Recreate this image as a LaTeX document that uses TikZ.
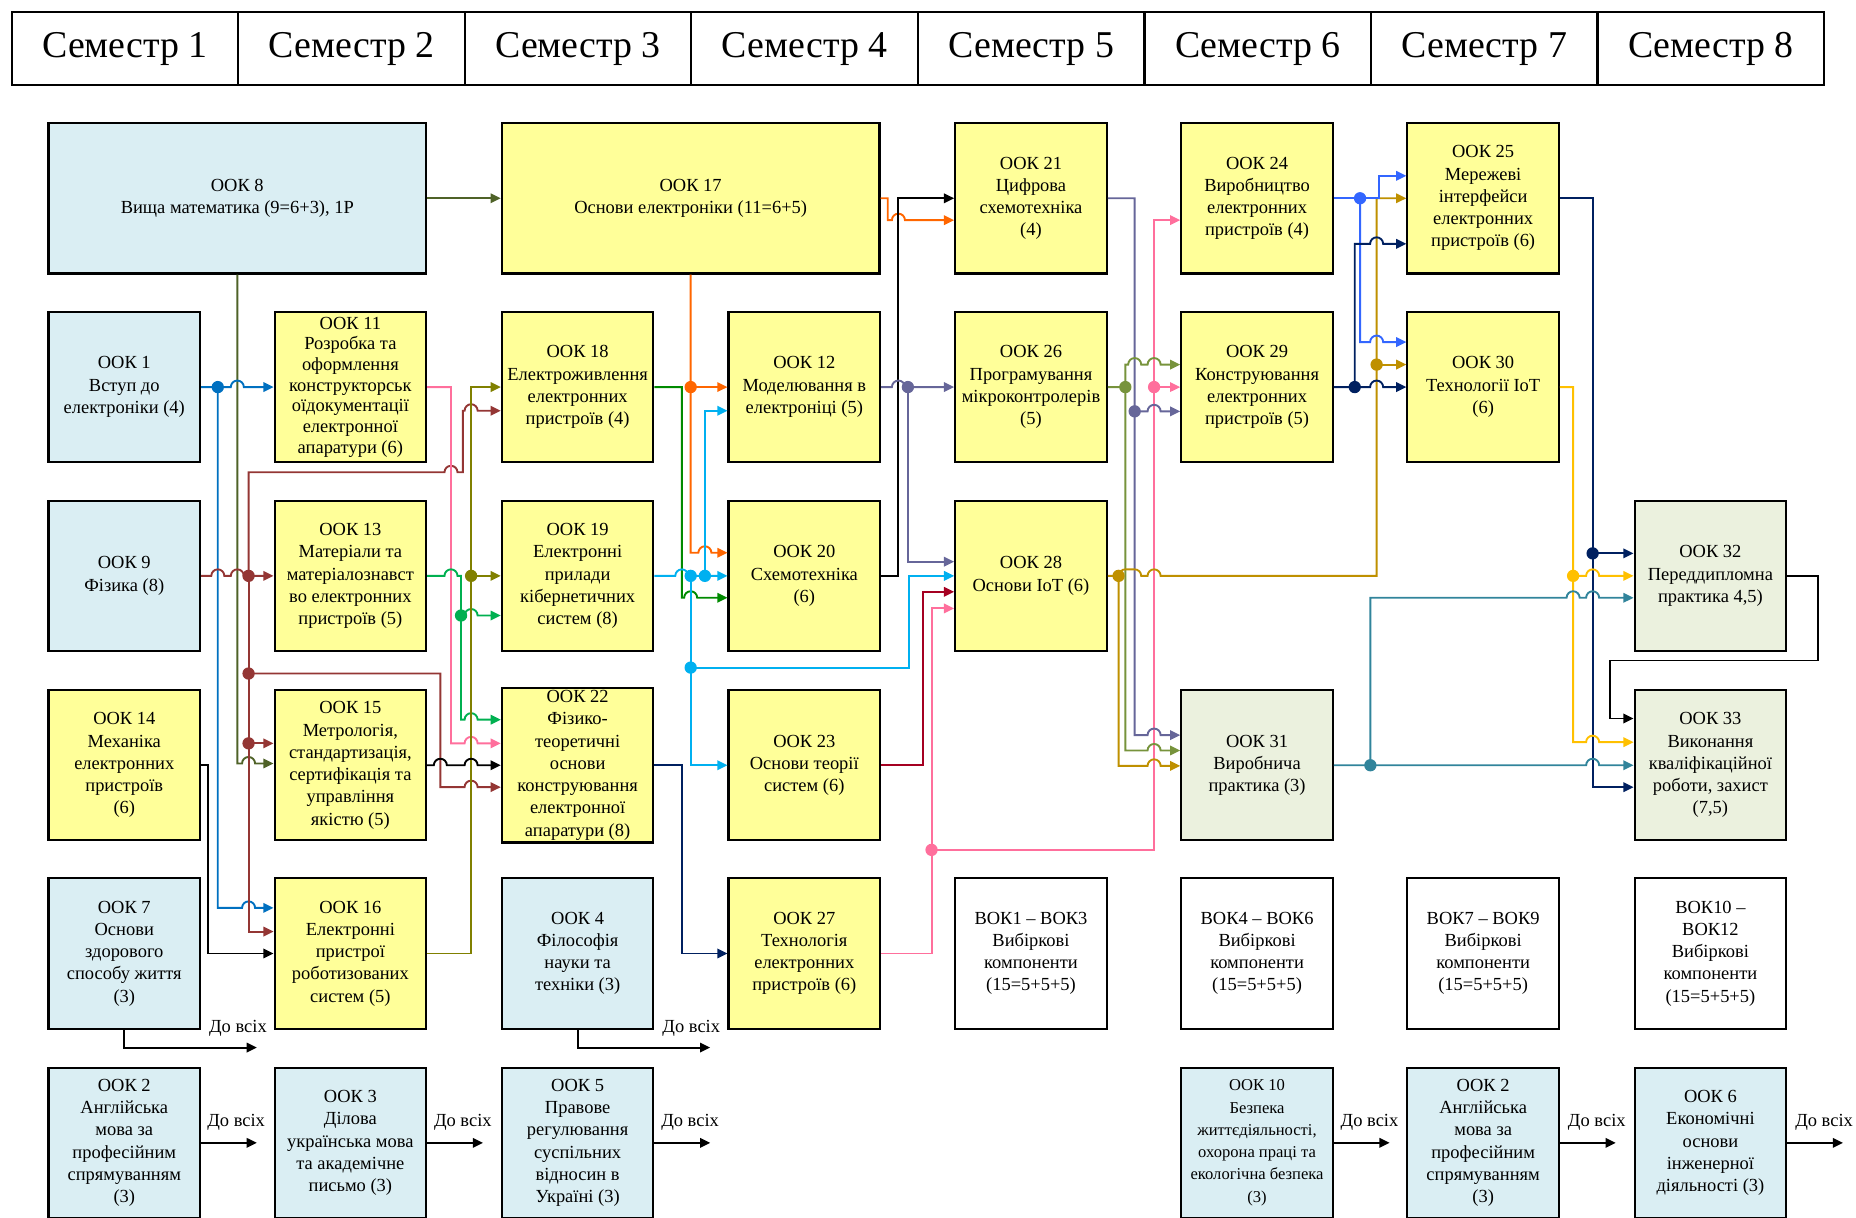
\documentclass[tikz,border=0pt]{standalone}
\usepackage{fontspec}
\setmainfont{Liberation Serif}
\usetikzlibrary{arrows.meta}
\definecolor{fblue}{HTML}{DAEEF3}
\definecolor{fyel}{HTML}{FFFF99}
\definecolor{fgrn}{HTML}{EBF1DE}
\definecolor{cOD}{HTML}{4F6228}
\definecolor{cBlue}{HTML}{0070C0}
\definecolor{cBrown}{HTML}{943634}
\definecolor{cPink}{HTML}{FF6F9C}
\definecolor{cGreen}{HTML}{00B050}
\definecolor{cOlive}{HTML}{808000}
\definecolor{cDGreen}{HTML}{008A00}
\definecolor{cOrange}{HTML}{FF6600}
\definecolor{cCyan}{HTML}{00B0F0}
\definecolor{cNavy}{HTML}{002060}
\definecolor{cPurple}{HTML}{666699}
\definecolor{cCrimson}{HTML}{A50021}
\definecolor{cOG}{HTML}{77933C}
\definecolor{cGold}{HTML}{BF9000}
\definecolor{cBlueB}{HTML}{3366FF}
\definecolor{cYellow}{HTML}{FFC000}
\definecolor{cTeal}{HTML}{31849B}
\newcommand\hopx[2]{-- ({#1-5.5},#2) arc[start angle=180,end angle=0,radius=2.75pt]}
\newcommand\hopw[3]{-- ({#1-5.5},#3) arc[start angle=180,end angle=90,radius=2.75pt] -- ({#2},{#3-5.5}) arc[start angle=90,end angle=0,radius=2.75pt]}
\begin{document}
\begin{tikzpicture}[x=0.5pt,y=-0.5pt,
  hdr/.style={draw,line width=0.9pt,minimum width=95.69pt,minimum height=31pt,inner sep=0pt,font=\fontsize{16}{18}\selectfont},
  box/.style={draw,line width=0.9pt,minimum width=64pt,minimum height=63.5pt,inner sep=1pt,align=center,font=\fontsize{7.8}{9.4}\selectfont},
  wide/.style={minimum width=159.5pt},
  bb/.style={box,fill=fblue},
  yb/.style={box,fill=fyel},
  gb/.style={box,fill=fgrn},
  wb/.style={box,fill=white},
  con/.style={line width=0.8pt,-{Triangle[length=4.3pt,width=4pt]}},
  lbl/.style={inner sep=0pt,font=\fontsize{7.8}{9.4}\selectfont}]
\useasboundingbox (0,0) rectangle (1568,1028.2);
% header
\foreach \i in {1,...,8}
  \node[hdr] (s\i) at ({10+191.375*(\i-0.5)},41) {Семестр \i};
% row 1
\node[bb,wide] (n8) at (200.5,167.5) {ООК 8\\Вища математика (9=6+3), 1Р};
\node[yb,wide] (n17) at (583.5,167.5) {ООК 17\\Основи електроніки (11=6+5)};
\node[yb] (n21) at (871,167.5) {ООК 21\\Цифрова\\схемотехніка\\(4)};
\node[yb] (n24) at (1062,167.5) {ООК 24\\Виробництво\\електронних\\пристроїв (4)};
\node[yb] (n25) at (1253,167.5) {ООК 25\\Мережеві\\інтерфейси\\електронних\\пристроїв (6)};
% row 2
\node[bb] (n1) at (105,327) {ООК 1\\Вступ до\\електроніки (4)};
\node[yb,font=\fontsize{7.8}{8.75}\selectfont] (n11) at (296,327) {ООК 11\\Розробка та\\оформлення\\конструкторськ\\оїдокументації\\електронної\\апаратури (6)};
\node[yb] (n18) at (488,327) {ООК 18\\Електроживлення\\електронних\\пристроїв (4)};
\node[yb] (n12) at (679.5,327) {ООК 12\\Моделювання в\\електроніці (5)};
\node[yb] (n26) at (871,327) {ООК 26\\Програмування\\мікроконтролерів\\(5)};
\node[yb] (n29) at (1062,327) {ООК 29\\Конструювання\\електронних\\пристроїв (5)};
\node[yb] (n30) at (1253,327) {ООК 30\\Технології IoT\\(6)};
% row 3
\node[bb] (n9) at (105,486.5) {ООК 9\\Фізика (8)};
\node[yb] (n13) at (296,486.5) {ООК 13\\Матеріали та\\матеріалознавст\\во електронних\\пристроїв (5)};
\node[yb] (n19) at (488,486.5) {ООК 19\\Електронні\\прилади\\кібернетичних\\систем (8)};
\node[yb] (n20) at (679.5,486.5) {ООК 20\\Схемотехніка\\(6)};
\node[yb] (n28) at (871,486.5) {ООК 28\\Основи IoT (6)};
\node[gb] (n32) at (1445,486.5) {ООК 32\\Переддипломна\\практика 4,5)};
% row 4
\node[yb] (n14) at (105,646.5) {ООК 14\\Механіка\\електронних\\пристроїв\\(6)};
\node[yb] (n15) at (296,646.5) {ООК 15\\Метрологія,\\стандартизація,\\сертифікація та\\управління\\якістю (5)};
\node[yb] (n22) at (488,646.5) {ООК 22\\Фізико-\\теоретичні\\основи\\конструювання\\електронної\\апаратури (8)};
\node[yb] (n23) at (679.5,646.5) {ООК 23\\Основи теорії\\систем (6)};
\node[gb] (n31) at (1062,646.5) {ООК 31\\Виробнича\\практика (3)};
\node[gb] (n33) at (1445,646.5) {ООК 33\\Виконання\\кваліфікаційної\\роботи, захист\\(7,5)};
% row 5
\node[bb] (n7) at (105,805.5) {ООК 7\\Основи\\здорового\\способу життя\\(3)};
\node[yb] (n16) at (296,805.5) {ООК 16\\Електронні\\пристрої\\роботизованих\\систем (5)};
\node[bb] (n4) at (488,805.5) {ООК 4\\Філософія\\науки та\\техніки (3)};
\node[yb] (n27) at (679.5,805.5) {ООК 27\\Технологія\\електронних\\пристроїв (6)};
\node[wb] (v1) at (871,805.5) {ВОК1 – ВОК3\\Вибіркові\\компоненти\\(15=5+5+5)};
\node[wb] (v2) at (1062,805.5) {ВОК4 – ВОК6\\Вибіркові\\компоненти\\(15=5+5+5)};
\node[wb] (v3) at (1253,805.5) {ВОК7 – ВОК9\\Вибіркові\\компоненти\\(15=5+5+5)};
\node[wb] (v4) at (1445,805.5) {ВОК10 –\\ВОК12\\Вибіркові\\компоненти\\(15=5+5+5)};
% row 6
\node[bb] (n2) at (105,965.5) {ООК 2\\Англійська\\мова за\\професійним\\спрямуванням\\(3)};
\node[bb] (n3) at (296,965.5) {ООК 3\\Ділова\\українська мова\\та академічне\\письмо (3)};
\node[bb] (n5) at (488,965.5) {ООК 5\\Правове\\регулювання\\суспільних\\відносин в\\Україні (3)};
\node[bb,font=\fontsize{7}{9.4}\selectfont] (n10) at (1062,965.5) {ООК 10\\Безпека\\життєдіяльності,\\охорона праці та\\екологічна безпека\\(3)};
\node[bb] (n2b) at (1253,965.5) {ООК 2\\Англійська\\мова за\\професійним\\спрямуванням\\(3)};
\node[bb] (n6) at (1445,965.5) {ООК 6\\Економічні\\основи\\інженерної\\діяльності (3)};
% "До всіх"
\coordinate (e7) at (217,885);
\coordinate (e4) at (600,885);
\coordinate (e2) at (217,965.5);
\coordinate (e3) at (408,965.5);
\coordinate (e5) at (600,965.5);
\coordinate (e10) at (1174,965.5);
\coordinate (e2b) at (1365,965.5);
\coordinate (e6) at (1557,965.5);
\draw[con] (n7.south) -- (105,885) -- (e7);
\draw[con] (n4.south) -- (488,885) -- (e4);
\draw[con] (n2.east) -- (e2);
\draw[con] (n3.east) -- (e3);
\draw[con] (n5.east) -- (e5);
\draw[con] (n10.east) -- (e10);
\draw[con] (n2b.east) -- (e2b);
\draw[con] (n6.east) -- (e6);
\node[lbl] (l7) at (201,869) {До всіх};
\node[lbl] (l4) at (584,869) {До всіх};
\node[lbl] (l2) at (199.5,948) {До всіх};
\node[lbl] (l3) at (391,948) {До всіх};
\node[lbl] (l5) at (583,948) {До всіх};
\node[lbl] (l10) at (1157,948) {До всіх};
\node[lbl] (l2b) at (1349,948) {До всіх};
\node[lbl] (l6) at (1541,948) {До всіх};
% ---- connectors ----
% OOK 8
\draw[con,cOD] (n8.east) -- (n17.west);
\draw[con,cOD] (n8.south) -- (200.5,645) \hopx{210}{645} -- (n15.west |- 0,645);
% OOK 1
\draw[con,cBlue] (n1.east) -- (184,327) \hopx{200.5}{327} -- (n11.west);
\draw[con,cBlue] (184,327) -- (184,767) \hopx{210}{767} -- (n16.west |- 0,767);
\fill[cBlue] (184,327) circle[radius=2.6pt];
% OOK 9
\draw[con,cBrown] (n9.east) \hopx{184}{486.5} \hopx{200.5}{486.5} -- (n13.west);
\draw[con,cBrown] (210,486.5) -- (210,399) \hopx{381}{399} -- (391,399) -- (391,347) \hopx{398}{347} -- (n18.west |- 0,347);
\draw[con,cBrown] (210,486.5) -- (210,787) -- (n16.west |- 0,787);
\draw[con,cBrown] (210,569) -- (372,569) -- (372,665) \hopx{398}{665} -- (n22.west |- 0,665);
\draw[con,cBrown] (210,628) -- (n15.west |- 0,628);
\fill[cBrown] (210,486.5) circle[radius=2.6pt] (210,569) circle[radius=2.6pt] (210,628) circle[radius=2.6pt];
% OOK 14
\draw[con] (n14.east) -- (176,646.5) -- (176,805.5) -- (n16.west);
% OOK 11
\draw[con,cPink] (n11.east) -- (381,327) -- (381,628) \hopx{398}{628} -- (n22.west |- 0,628);
% OOK 13
\draw[con,cGreen] (n13.east) \hopx{381}{486.5} -- (389.5,486.5) -- (389.5,608) \hopx{398}{608} -- (n22.west |- 0,608);
\draw[con,cGreen] (389.5,520) \hopx{398}{520} -- (n19.west |- 0,520);
\fill[cGreen] (389.5,520) circle[radius=2.6pt];
% OOK 16
\draw[con,cOlive] (n16.east) -- (398,805.5) -- (398,327) -- (n18.west);
\draw[con,cOlive] (398,486.5) -- (n19.west);
\fill[cOlive] (398,486.5) circle[radius=2.6pt];
% OOK 15
\draw[con] (n15.east) \hopx{372}{646.5} \hopx{398}{646.5} -- (n22.west);
% OOK 18
\draw[con,cDGreen] (n18.east) -- (576,327) -- (576,505) \hopx{583.5}{505} -- (n20.west |- 0,505);
% OOK 17
\draw[con,cOrange] (n17.south) -- (583.5,467) \hopx{595.5}{467} -- (n20.west |- 0,467);
\draw[con,cOrange] (583.5,327) -- (n12.west);
\fill[cOrange] (583.5,327) circle[radius=2.6pt];
\draw[con,cOrange] (n17.east) -- (750,167.5) -- (750,186) \hopx{759}{186} -- (n21.west |- 0,186);
% OOK 19
\draw[con,cCyan] (n19.east) \hopx{576}{486.5} -- (n20.west);
\draw[con,cCyan] (595.5,486.5) -- (595.5,347) -- (n12.west |- 0,347);
\draw[con,cCyan] (583.5,486.5) -- (583.5,646.5) -- (n23.west);
\draw[con,cCyan] (583.5,564) -- (768,564) -- (768,486.5) -- (n28.west);
\fill[cCyan] (583.5,486.5) circle[radius=2.6pt] (595.5,486.5) circle[radius=2.6pt] (583.5,564) circle[radius=2.6pt];
% OOK 22
\draw[con,cNavy] (n22.east) -- (576,646.5) -- (576,805.5) -- (n27.west);
% OOK 20
\draw[con] (n20.east) -- (759,486.5) -- (759,167.5) -- (n21.west);
% OOK 12
\draw[con,cPurple] (n12.east) \hopx{759}{327} -- (n26.west);
\draw[con,cPurple] (767,327) -- (767,474.5) -- (n28.west |- 0,474.5);
\fill[cPurple] (767,327) circle[radius=2.6pt];
% OOK 23
\draw[con,cCrimson] (n23.east) -- (780,646.5) -- (780,500) -- (n28.west |- 0,500);
% OOK 27
\draw[con,cPink] (n27.east) -- (787,805.5) -- (787,514) -- (n28.west |- 0,514);
\draw[con,cPink] (787,718) -- (975,718) -- (975,186) -- (n24.west |- 0,186);
\draw[con,cPink] (975,327) -- (n29.west);
\fill[cPink] (787,718) circle[radius=2.6pt] (975,327) circle[radius=2.6pt];
% OOK 21
\draw[con,cPurple] (n21.east) -- (958.6,167.5) -- (958.6,621) \hopx{975}{621} -- (n31.west |- 0,621);
\draw[con,cPurple] (958.6,347.5) \hopx{975}{347.5} -- (n29.west |- 0,347.5);
\fill[cPurple] (958.6,347.5) circle[radius=2.6pt];
% OOK 26
\draw[con,cOG] (n26.east) -- (950.7,327) -- (950.7,308) \hopx{958.6}{308} \hopx{975}{308} -- (n29.west |- 0,308);
\draw[con,cOG] (950.7,327) -- (950.7,634) \hopx{975}{634} -- (n31.west |- 0,634);
\fill[cOG] (950.7,327) circle[radius=2.6pt];
% OOK 28
\draw[con,cGold] (n28.east) \hopw{950.7}{958.6}{486.5} \hopx{975}{486.5} -- (1163,486.5) -- (1163,167.5) -- (n25.west);
\draw[con,cGold] (1163,308) -- (n30.west |- 0,308);
\draw[con,cGold] (945,486.5) -- (945,647) \hopx{975}{647} -- (n31.west |- 0,647);
\fill[cGold] (945,486.5) circle[radius=2.6pt] (1163,308) circle[radius=2.6pt];
% OOK 24
\draw[con,cBlueB] (n24.east) -- (1165,167.5) -- (1165,148.5) -- (n25.west |- 0,148.5);
\draw[con,cBlueB] (1149,167.5) -- (1149,289) \hopx{1163}{289} -- (n30.west |- 0,289);
\fill[cBlueB] (1149,167.5) circle[radius=2.6pt];
% OOK 29
\draw[con,cNavy] (n29.east) \hopx{1163}{327} -- (n30.west);
\draw[con,cNavy] (1144.5,327) -- (1144.5,206) \hopx{1163}{206} -- (n25.west |- 0,206);
\fill[cNavy] (1144.5,327) circle[radius=2.6pt];
% OOK 25
\draw[con,cNavy] (n25.east) -- (1345.5,167.5) -- (1345.5,665) -- (n33.west |- 0,665);
\draw[con,cNavy] (1345.5,467.5) -- (n32.west |- 0,467.5);
\fill[cNavy] (1345.5,467.5) circle[radius=2.6pt];
% OOK 30
\draw[con,cYellow] (n30.east) -- (1329,327) -- (1329,627) \hopx{1345.5}{627} -- (n33.west |- 0,627);
\draw[con,cYellow] (1329,486.5) \hopx{1345.5}{486.5} -- (n32.west);
\fill[cYellow] (1329,486.5) circle[radius=2.6pt];
% OOK 31
\draw[con,cTeal] (n31.east) \hopx{1345.5}{646.5} -- (n33.west);
\draw[con,cTeal] (1157.7,646.5) -- (1157.7,505) \hopx{1329}{505} \hopx{1345.5}{505} -- (n32.west |- 0,505);
\fill[cTeal] (1157.7,646.5) circle[radius=2.6pt];
% OOK 32
\draw[con] (n32.east) -- (1536,486.5) -- (1536,558) -- (1360,558) -- (1360,607) -- (n33.west |- 0,607);
\end{tikzpicture}
\end{document}
